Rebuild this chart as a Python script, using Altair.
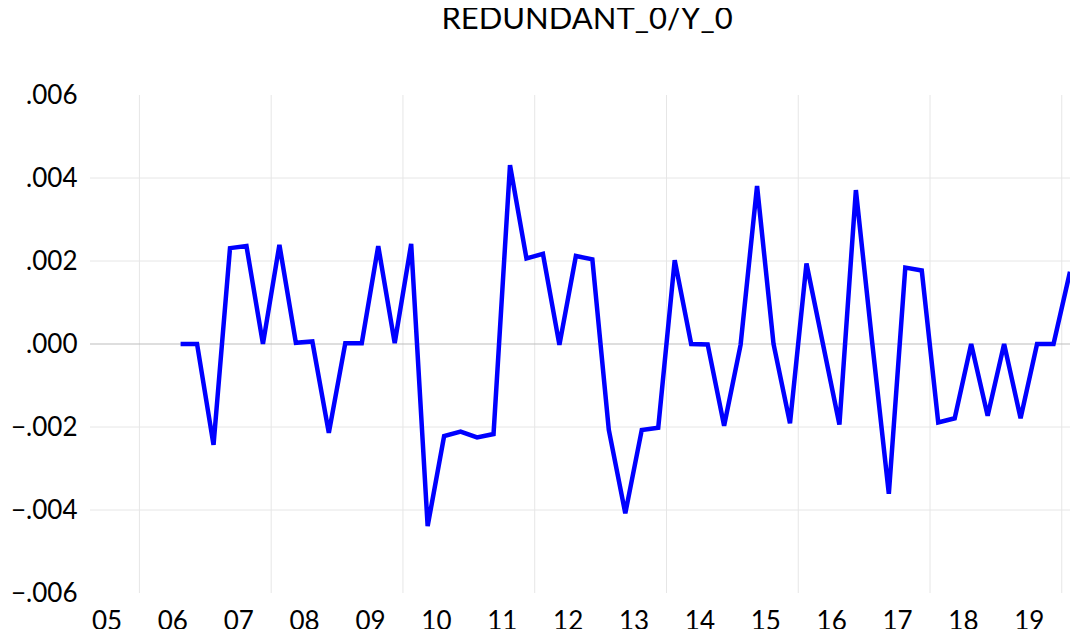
import altair as alt
import pandas as pd

# ---- data (quarterly, index t) ----
PERIOD_INDEX = list(range(5, 60))
VALUES = [
    0.0, 0.0, -0.00243,
    0.00231, 0.00236, 0.0, 0.00239,
    0.00003, 0.00006, -0.00214, 0.00002,
    0.00002, 0.00236, 0.00002, 0.00241,
    -0.00439, -0.00222, -0.00211, -0.00225,
    -0.00217, 0.00431, 0.00206, 0.00217,
    -0.00002, 0.00212, 0.00204, -0.00207,
    -0.00408, -0.00207, -0.00202, 0.00202,
    0.0, -0.00001, -0.00197, -0.00002,
    0.00381, 0.0, -0.00191, 0.00194,
    0.0, -0.00194, 0.00371, 0.0,
    -0.00361, 0.00184, 0.00177, -0.00189,
    -0.00179, 0.0, -0.00173, 0.0,
    -0.00179, 0.0, 0.0, 0.00174,
]
X_LABELS = ["05", "06", "07", "08", "09", "10", "11", "12", "13", "14",
            "15", "16", "17", "18", "19"]
X_LABEL_POS = [0.5 + 4 * i for i in range(len(X_LABELS))]
X_GRID_POS = [2.5, 10.5, 18.5, 26.5, 34.5, 42.5, 50.5, 58.5]
Y_TICKS = [-0.006, -0.004, -0.002, 0.0, 0.002, 0.004, 0.006]
Y_GRID = [-0.004, -0.002, 0.002, 0.004]
Y_ZERO = [0.0]
TITLE = "REDUNDANT_0/Y_0"

df = pd.DataFrame({"t": PERIOD_INDEX, "v": VALUES})
xgrid = pd.DataFrame({"t": X_GRID_POS})
ygrid = pd.DataFrame({"v": Y_GRID})
yzero = pd.DataFrame({"v": Y_ZERO})

FONT = "Lato"
x_scale = alt.Scale(domain=[-0.5, 59.0], nice=False, zero=False)
y_scale = alt.Scale(domain=[-0.006, 0.006], nice=False, zero=False)

label_arr = "[" + ",".join("'%s'" % s for s in X_LABELS) + "]"

x_axis = alt.Axis(values=X_LABEL_POS, grid=False, domain=False, ticks=False,
                  tickSize=0, labelPadding=15, labelFontSize=26, labelFont=FONT,
                  labelColor="#000000", labelFlush=False, title=None,
                  labelExpr=label_arr + "[round((datum.value-0.5)/4)]")
y_axis = alt.Axis(values=Y_TICKS, grid=False, domain=False, ticks=False,
                  tickSize=0, labelPadding=13, labelFontSize=26, labelFont=FONT,
                  labelColor="#000000", labelFlush=False, title=None,
                  labelExpr="replace(format(datum.value, '.3f'), '0.', '.')")

vgrid = alt.Chart(xgrid).mark_rule(color="#e6e6e6", strokeWidth=1).encode(
    x=alt.X("t:Q", scale=x_scale, axis=x_axis, title=None)
)
hgrid = alt.Chart(ygrid).mark_rule(color="#e6e6e6", strokeWidth=1).encode(
    y=alt.Y("v:Q", scale=y_scale, axis=y_axis, title=None)
)
hzero = alt.Chart(yzero).mark_rule(color="#bdbdbd", strokeWidth=1).encode(
    y=alt.Y("v:Q", scale=y_scale, axis=y_axis, title=None)
)

line = alt.Chart(df).mark_line(color="#0000ff", strokeWidth=4.5, strokeJoin="miter").encode(
    x=alt.X("t:Q", scale=x_scale, axis=x_axis, title=None),
    y=alt.Y("v:Q", scale=y_scale, axis=y_axis, title=None),
)

chart = alt.layer(vgrid, hgrid, hzero, line).properties(
    width=980,
    height=498,
    title=alt.TitleParams(TITLE, font=FONT, fontSize=31, fontWeight="normal",
                          color="#000000", anchor="middle", offset=46, dx=7),
    autosize=alt.AutoSizeParams(type="none"),
    padding={"left": 82, "top": 87, "right": 0, "bottom": 36},
).configure_view(stroke=None)

chart.save("out.html", embed_options={"renderer": "svg", "actions": False})
